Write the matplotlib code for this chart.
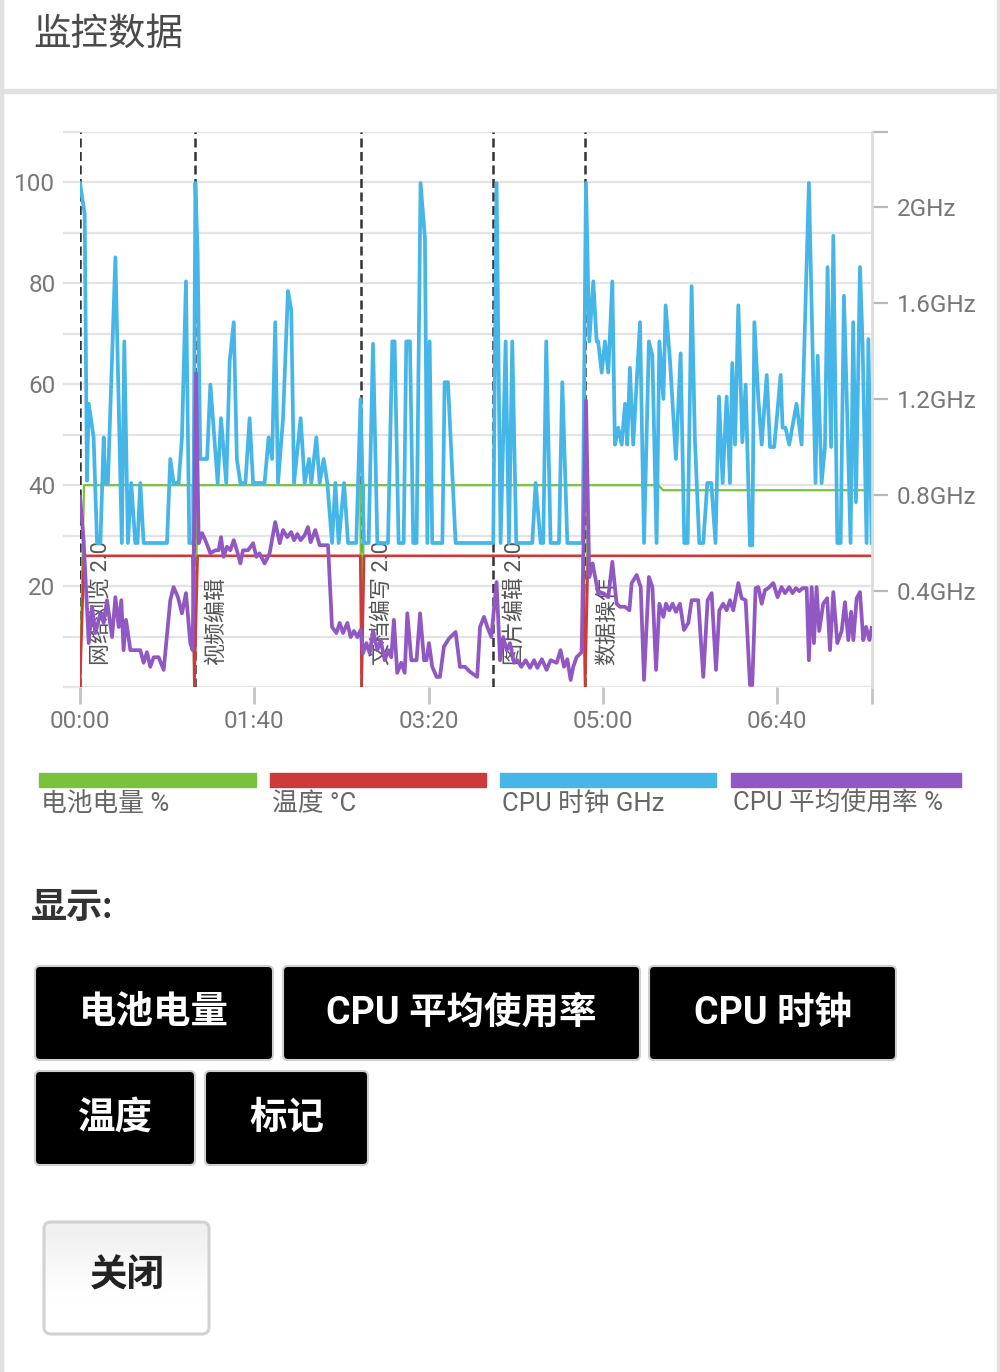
import matplotlib
matplotlib.use("Agg")
import matplotlib.pyplot as plt
from matplotlib.patches import FancyBboxPatch, Rectangle
from matplotlib.ticker import FixedLocator

plt.rcParams['font.family'] = ['Roboto', 'Noto Sans CJK SC', 'DejaVu Sans']

# ---- data (time in seconds) ----
marker_t = [0, 66, 161, 237, 290]
marker_names = ["网络浏览 2.0", "视频编辑", "文档编写 2.0", "图片编辑 2.0", "数据操作"]

# battery level %
batt_pts = [(0, 0), (2.3, 40), (64.5, 40), (65.6, 0), (67.5, 40), (160.8, 40),
            (161.6, 0), (163, 40), (288.6, 40), (289.8, 0), (291.5, 40),
            (331.8, 40), (334.5, 39), (454.4, 39)]

# temperature °C
temp_pts = [(0, 0), (2.3, 26), (64.5, 26), (65.6, 0), (67.5, 26), (160.8, 26),
            (161.6, 0), (163, 26), (288.6, 26), (289.8, 0), (291.5, 26),
            (454.4, 26)]

# CPU clock GHz
clock_pts = [
    (0, 2.10), (2.7, 1.97), (4.0, 0.86), (5.0, 1.18), (7.8, 1.04), (9.8, 0.60),
    (11.7, 0.60), (13.6, 1.04), (14.5, 0.85), (16.0, 0.85), (20.3, 1.79),
    (24.0, 0.60), (25.4, 1.44), (27.5, 0.60), (29.4, 0.85), (31.7, 0.60),
    (33.0, 0.60), (34.6, 0.85), (36.5, 0.60), (49.9, 0.60), (51.8, 0.95),
    (53.7, 0.85), (56.6, 0.85), (58.5, 1.04), (60.8, 1.69), (62.7, 0.60),
    (65.0, 0.60), (66.2, 2.10), (67.5, 1.80), (69.0, 0.95), (72.9, 0.95),
    (74.8, 1.26), (79.0, 0.85), (80.9, 1.12), (83.9, 0.85), (85.9, 1.36),
    (88.2, 1.52), (90.0, 0.95), (92.0, 0.85), (94.9, 0.85), (97.3, 1.12),
    (99.3, 0.85), (105.9, 0.85), (108.2, 1.04), (110.2, 0.95), (112.0, 1.52),
    (113.6, 0.85), (116.5, 1.12), (119.3, 1.65), (121.2, 1.57), (122.8, 0.85),
    (126.6, 1.12), (128.9, 0.85), (131.4, 0.95), (132.7, 0.85), (135.6, 1.04),
    (137.5, 0.85), (139.8, 0.95), (141.9, 0.85), (144.6, 0.60), (146.5, 0.85),
    (148.4, 0.60), (151.5, 0.85), (153.8, 0.60), (158.5, 0.60), (161.0, 1.20),
    (162.9, 0.60), (165.6, 0.60), (168.1, 1.43), (170.6, 0.60), (176.7, 0.60),
    (179.2, 1.44), (180.5, 1.44), (182.8, 0.60), (185.7, 0.60), (187.2, 1.44),
    (189.3, 1.44), (191.2, 0.60), (193.1, 0.60), (195.4, 2.10), (197.9, 1.87),
    (199.3, 0.60), (200.6, 1.44), (202.1, 0.60), (207.9, 0.60), (209.2, 1.27),
    (211.1, 1.27), (215.5, 0.60), (237.1, 0.60), (239.0, 2.10), (241.3, 0.60),
    (244.2, 1.44), (246.1, 0.60), (248.0, 1.44), (250.3, 0.60), (259.5, 0.60),
    (261.4, 0.85), (264.3, 0.60), (265.8, 0.60), (267.5, 1.44), (270.0, 0.60),
    (274.8, 0.60), (276.7, 1.27), (279.6, 0.60), (288.4, 0.60), (290.3, 2.10),
    (292.2, 1.44), (294.5, 1.69), (296.4, 1.44), (297.3, 1.44), (299.3, 1.31),
    (301.2, 1.44), (303.1, 1.31), (305.4, 1.69), (306.9, 1.01), (308.8, 1.08),
    (310.8, 1.01), (312.7, 1.18), (314.0, 1.01), (315.5, 1.33), (317.4, 1.01),
    (321.3, 1.52), (323.6, 0.60), (326.4, 1.44), (328.4, 1.38), (330.8, 0.60),
    (332.4, 1.44), (334.7, 1.20), (336.0, 1.59), (338.5, 1.36), (341.9, 0.95),
    (344.6, 1.39), (346.7, 0.60), (348.6, 0.60), (350.9, 1.67), (352.8, 1.03),
    (355.3, 0.60), (357.6, 0.60), (359.9, 0.85), (362.2, 0.85), (364.6, 0.60),
    (366.6, 1.21), (368.7, 0.85), (371.0, 1.21), (372.9, 0.85), (374.2, 1.35),
    (375.8, 1.01), (377.7, 1.59), (380.0, 1.02), (381.9, 1.26), (384.4, 0.59),
    (385.7, 0.59), (386.9, 1.52), (389.2, 1.20), (391.1, 1.01), (394.0, 1.30),
    (395.9, 1.00), (398.3, 1.00), (402.0, 1.30), (403.1, 1.08), (404.8, 1.08),
    (406.9, 1.01), (411.1, 1.18), (414.0, 1.01), (418.2, 2.10), (422.0, 0.85),
    (423.2, 1.38), (425.5, 0.85), (427.4, 1.00), (428.9, 1.75), (430.9, 1.00),
    (432.2, 1.88), (434.5, 0.60), (436.4, 0.60), (438.3, 1.63), (439.9, 1.21),
    (442.1, 0.60), (443.6, 1.52), (445.2, 0.77), (447.5, 1.75), (449.0, 1.43),
    (451.3, 0.60), (452.3, 1.45), (454.2, 0.60)]

# average CPU usage %
usage_pts = [
    (0, 37.7), (2.1, 29.0), (5.0, 8.7), (6.9, 15.9), (8.8, 10.7), (11.7, 14.6),
    (13.6, 12.7), (15.5, 17.2), (18.4, 9.9), (20.3, 17.8), (22.2, 11.9),
    (23.7, 17.2), (25.0, 7.3), (26.4, 13.3), (28.9, 7.3), (34.6, 7.3),
    (36.5, 4.8), (38.4, 6.9), (40.3, 4.0), (42.3, 5.9), (45.1, 5.9), (48.0, 3.4),
    (51.8, 17.2), (53.7, 19.8), (56.2, 17.8), (58.5, 14.6), (60.8, 18.6),
    (63.3, 8.7), (64.6, 7.3), (66.6, 62.2), (68.1, 28.5), (70.0, 30.5),
    (71.9, 29.1), (74.8, 26.5), (77.6, 27.1), (79.5, 27.1), (80.9, 29.7),
    (82.4, 25.8), (84.3, 27.8), (86.2, 27.1), (88.2, 29.1), (90.0, 27.1),
    (92.0, 24.5), (93.5, 27.1), (96.4, 27.1), (99.3, 28.5), (101.2, 25.8),
    (103.0, 26.5), (105.9, 24.5), (108.8, 26.5), (112.0, 32.7), (114.6, 28.5),
    (116.5, 31.1), (118.9, 29.7), (121.2, 30.7), (122.8, 29.1), (124.7, 30.3),
    (126.6, 29.1), (128.9, 30.1), (130.8, 31.7), (132.3, 28.7), (135.0, 31.1),
    (137.5, 28.1), (142.3, 28.1), (144.6, 11.9), (147.1, 10.7), (149.0, 12.7),
    (150.9, 10.7), (153.4, 12.7), (155.3, 9.9), (157.2, 11.1), (159.1, 9.9),
    (161.0, 11.3), (162.4, 6.7), (164.3, 8.7), (166.2, 6.7), (168.1, 11.1),
    (170.6, 7.3), (172.5, 9.3), (174.8, 5.3), (177.1, 7.3), (178.6, 5.9),
    (180.1, 13.3), (182.0, 2.8), (184.3, 4.8), (186.3, 2.8), (187.8, 14.6),
    (190.1, 5.3), (193.1, 5.3), (195.1, 14.6), (197.4, 5.3), (198.8, 5.3),
    (200.2, 8.7), (202.1, 4.0), (204.6, 2.0), (206.5, 2.0), (208.8, 8.0),
    (211.7, 9.6), (215.5, 10.9), (218.0, 4.0), (220.9, 4.0), (223.8, 3.0),
    (227.9, 2.0), (229.5, 11.9), (231.8, 13.9), (233.7, 11.9), (236.0, 9.9),
    (239.0, 20.8), (241.0, 5.3), (242.8, 9.9), (244.8, 7.3), (246.7, 8.7),
    (249.0, 4.8), (250.9, 5.3), (253.2, 4.0), (255.7, 5.3), (258.2, 3.8),
    (260.5, 5.3), (262.4, 3.8), (265.0, 5.5), (267.7, 3.4), (270.0, 5.3),
    (273.5, 4.8), (275.7, 7.3), (277.7, 4.0), (279.6, 5.5), (281.5, 1.4),
    (283.0, 4.0), (284.9, 5.9), (287.8, 6.9), (290.3, 56.8), (292.2, 21.8),
    (294.1, 24.5), (297.3, 18.6), (300.2, 18.6), (303.1, 17.8), (305.4, 24.8),
    (307.9, 16.5), (309.8, 15.9), (312.7, 15.9), (315.2, 15.2), (316.5, 20.6),
    (319.4, 22.2), (321.7, 19.8), (323.6, 1.4), (326.4, 21.8), (328.4, 19.8),
    (330.5, 3.4), (332.4, 16.5), (334.7, 13.9), (336.2, 16.5), (338.1, 15.2),
    (340.0, 16.5), (341.9, 14.9), (344.2, 16.5), (346.5, 11.3), (349.0, 12.7),
    (350.9, 17.2), (354.7, 17.2), (357.6, 2.0), (360.1, 17.2), (362.4, 18.6),
    (364.9, 3.4), (366.8, 15.2), (369.0, 16.5), (371.0, 15.2), (372.9, 17.2),
    (374.8, 15.2), (377.7, 20.6), (379.6, 17.6), (381.9, 17.2), (384.4, 0.4),
    (385.7, 0.4), (387.6, 19.6), (389.2, 19.8), (391.1, 16.5), (393.0, 19.2),
    (394.9, 19.6), (397.8, 20.6), (400.2, 17.8), (402.5, 19.8), (404.5, 18.6),
    (406.9, 19.8), (408.8, 18.6), (410.8, 19.6), (412.7, 19.0), (414.6, 19.6),
    (416.9, 19.6), (418.2, 5.3), (419.8, 19.8), (421.1, 8.7), (422.6, 19.8),
    (424.1, 11.1), (426.4, 16.5), (428.7, 17.6), (430.3, 7.3), (432.2, 18.8),
    (434.5, 8.7), (437.0, 11.1), (438.9, 16.8), (440.8, 9.3), (442.4, 14.9),
    (443.7, 9.3), (445.6, 17.6), (447.5, 18.8), (449.4, 9.3), (451.0, 11.9),
    (452.9, 9.3), (454.2, 11.7)]

x_ticks = [0, 100, 200, 300, 400]
x_labels = ["00:00", "01:40", "03:20", "05:00", "06:40"]
left_ticks = [20, 40, 60, 80, 100]
right_ticks = [0.4, 0.8, 1.2, 1.6, 2.0]
right_labels = ["0.4GHz", "0.8GHz", "1.2GHz", "1.6GHz", "2GHz"]

series_names = ["电池电量 %", "温度 °C", "CPU 时钟 GHz", "CPU 平均使用率 %"]
series_colors = ["#7ac23e", "#cc3a3c", "#46b6e9", "#9157c3"]
button_rows = [["电池电量", "CPU 平均使用率", "CPU 时钟"], ["温度", "标记"]]

GRID = "#e3e3e3"
TICKC = "#c4c4c4"
LABELC = "#777777"

fig = plt.figure(figsize=(10, 13.72), dpi=100)

# page (pixel coordinates) for the app chrome around the chart
page = fig.add_axes([0, 0, 1, 1], zorder=0)
page.set_xlim(0, 1000)
page.set_ylim(1372, 0)
page.axis("off")
page.add_patch(Rectangle((0, 0), 3, 1372, color="#e0e0e0"))
page.add_patch(Rectangle((997, 0), 3, 1372, color="#e0e0e0"))
page.add_patch(Rectangle((0, 89), 1000, 4, color="#e0e0e0"))
page.text(33, 34, "监控数据", fontsize=27, color="#4a4a4a", va="center", ha="left")

# legend blocks
leg_x = [39, 270, 500, 731]
leg_w = [217, 216, 216, 230]
for name, col, x0, w in zip(series_names, series_colors, leg_x, leg_w):
    page.add_patch(Rectangle((x0, 773), w, 14, color=col))
    page.text(x0 + 2, 804, name, fontsize=18.5, color="#666666", va="center", ha="left")

page.text(31, 908, "显示:", fontsize=26, color="#333333", fontweight="bold",
          va="center", ha="left")

btn_boxes = [[(33, 275), (281, 642), (647, 898)], [(33, 197), (203, 370)]]
row_y = [(964, 1062), (1069, 1167)]
for labels, boxes, (y0, y1) in zip(button_rows, btn_boxes, row_y):
    for lab, (x0, x1) in zip(labels, boxes):
        page.add_patch(FancyBboxPatch((x0 + 2, y0 + 2), x1 - x0 - 4, y1 - y0 - 4,
                                      boxstyle="round,pad=0,rounding_size=5",
                                      fc="black", ec="#d0d0d0", lw=1.5))
        page.text((x0 + x1) / 2, (y0 + y1) / 2, lab, fontsize=27, color="white",
                  fontweight="bold", va="center", ha="center")

# close button with a soft gradient
close_box = FancyBboxPatch((44, 1222), 165, 112,
                           boxstyle="round,pad=0,rounding_size=7",
                           fc="none", ec="#d2d2d2", lw=2.2, zorder=2)
page.add_patch(close_box)
grad = page.imshow([[0.94], [0.955], [0.975], [0.99], [1.0], [1.0]], cmap="gray",
                   vmin=0, vmax=1, extent=(44, 209, 1334, 1222), aspect="auto",
                   interpolation="bilinear", zorder=1)
grad.set_clip_path(close_box)
page.text(127, 1276, "关闭", fontsize=27, color="#222222", fontweight="bold",
          va="center", ha="center", zorder=3)
page.set_xlim(0, 1000)
page.set_ylim(1372, 0)

# ---- chart ----
ax = fig.add_axes([0.080, 685 / 1372, 0.792, 555 / 1372], zorder=1)
ax.patch.set_alpha(0)
ax.set_xlim(0, 454.4)
ax.set_ylim(0, 110)
for s in ax.spines.values():
    s.set_visible(False)

ax.yaxis.set_major_locator(FixedLocator(left_ticks))
ax.yaxis.set_minor_locator(FixedLocator([0, 10, 30, 50, 70, 90, 110]))
ax.set_yticklabels([str(v) for v in left_ticks])
ax.tick_params(axis="y", which="both", length=12.2, width=1.6, color=GRID,
               labelsize=17.5, labelcolor=LABELC, pad=5.5)
ax.grid(True, axis="y", which="both", color=GRID, lw=1.6)
ax.set_axisbelow(True)

ax.set_xticks(x_ticks)
ax.set_xticklabels(x_labels)
ax.xaxis.set_minor_locator(FixedLocator([454.4]))
ax.tick_params(axis="x", which="both", length=12.2, width=2, color=TICKC,
               labelsize=17.5, labelcolor=LABELC, pad=4)

for t, name in zip(marker_t, marker_names):
    ax.axvline(t, color="#333333", lw=1.8, ls=(0, (3.6, 1.8)), zorder=1.5)
    ax.annotate(name, xy=(t, 0), xytext=(22, 22), textcoords="offset pixels",
                rotation=90, ha="center", va="bottom", fontsize=15.8,
                color="#555555", zorder=6)

ax.plot(*zip(*batt_pts), color=series_colors[0], lw=1.6, zorder=2)
ax.plot(*zip(*temp_pts), color=series_colors[1], lw=1.9, zorder=3)

# CPU clock on its own GHz scale
axc = ax.twinx()
axc.set_zorder(2)
axc.patch.set_alpha(0)
axc.set_ylim(0, 2.3125)
axc.set_xlim(0, 454.4)
for k in ("left", "top", "bottom"):
    axc.spines[k].set_visible(False)
axc.spines["right"].set_color("#dcdcdc")
axc.spines["right"].set_linewidth(2)
axc.set_yticks(right_ticks)
axc.set_yticklabels(right_labels)
axc.yaxis.set_minor_locator(FixedLocator([2.3125]))
axc.tick_params(axis="y", which="both", length=11.5, width=1.6, color="#b8b8b8",
                labelsize=17.5, labelcolor=LABELC, pad=6.5)
axc.plot(*zip(*clock_pts), color=series_colors[2], lw=2.7)

# CPU usage drawn on top, same scale as the left axis
axu = ax.twinx()
axu.set_zorder(3)
axu.patch.set_alpha(0)
axu.set_ylim(0, 110)
axu.set_xlim(0, 454.4)
axu.axis("off")
axu.plot(*zip(*usage_pts), color=series_colors[3], lw=2.7)

fig.savefig("out.png", dpi=100)
